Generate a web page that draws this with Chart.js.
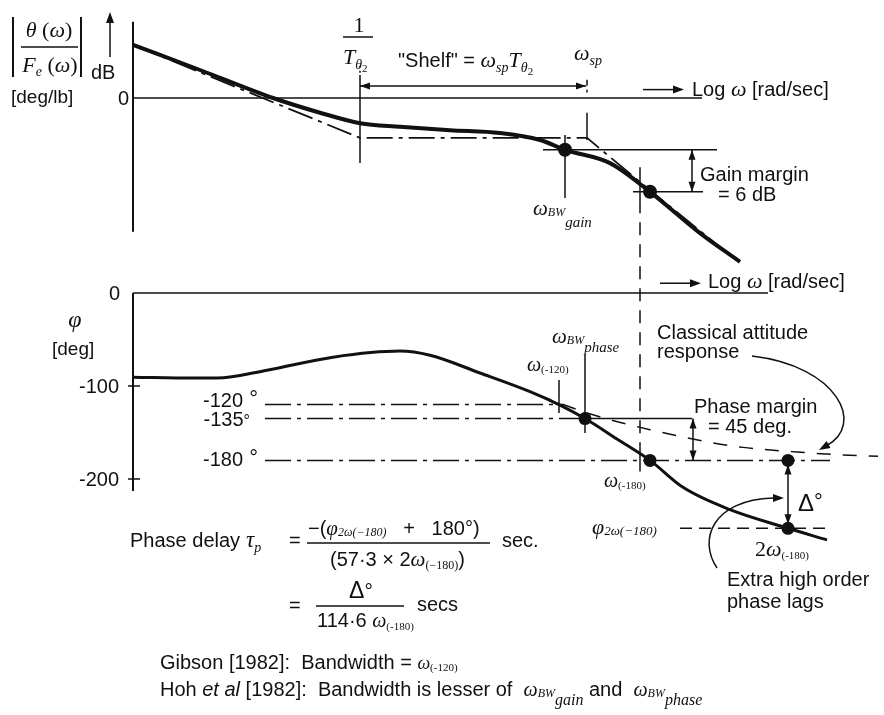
<!DOCTYPE html>
<html>
<head>
<meta charset="utf-8">
<title>Pitch attitude bandwidth</title>
<script src="https://cdn.jsdelivr.net/npm/chart.js@4.4.1/dist/chart.umd.min.js"></script>
<style>
  body { margin: 0; background: #fff; }
  #chart_area { width: 884px; height: 715px; position: relative; }
</style>
</head>
<body>
<div id="chart_area"><canvas id="bode"></canvas></div>
<script>
// Frequencies on the log-omega axis (log units, 0 at the plot origin)
const wTheta2 = 2.27;     // 1/T_theta2
const wSp = 4.54;         // short period
const wBwGain = 4.32;
const w120 = 4.26;
const wBwPhase = 4.52;
const w180 = 5.17;
const w180Line = 5.07;    // dashed marker dropped from the gain plot
const w2x180 = 6.55;

// Gain plot, dB
const magLogW = [0, 0.67, 1.40, 1.87, 2.27, 2.67, 3.17, 3.67, 4.07, 4.32, 4.77, 5.17, 5.67, 6.07];
const magDb = [7.6, 4.0, 0, -2.1, -3.6, -4.1, -4.6, -5.0, -6.0, -7.4, -9.3, -13.4, -19.3, -23.4];
const asymLogW = [0, 2.27, 4.54, 5.17, 6.0];
const asymDb = [7.6, -5.7, -5.7, -13.2, -22.8];
const gainAtBw = -7.4;
const gainMargin = 6;

// Phase plot, deg
const phaseLogW = [0, 0.6, 0.84, 1.34, 2.0, 2.67, 2.97, 3.47, 3.97, 4.26, 4.52, 4.84, 5.17, 5.5, 5.97, 6.55, 6.94];
const phaseDeg = [-90.5, -91.5, -91.5, -83, -69, -62.5, -67, -86, -106, -120, -135, -157, -180, -209, -233, -253, -265.5];
const classicLogW = [4.05, 4.6, 5.17, 5.74, 6.1, 6.64, 7.07, 7.45];
const classicDeg = [-110, -131, -147, -160, -166, -171, -174, -175.5];
const phaseRefs = [-120, -135, -180];
const phaseRefLabels = ["-120", "-135", "-180"];
const phi2w180 = -253;
const phaseTicks = [0, -100, -200];

const INK = "#111";
const SANS = '"Liberation Sans", Arial, sans-serif';
const SERIF = '"Liberation Serif", "DejaVu Serif", serif';
const sans = s => s + "px " + SANS;
const itSans = s => "italic " + s + "px " + SANS;
const ital = s => "italic " + s + "px " + SERIF;
const rom = s => s + "px " + SERIF;

const DASHDOT = [26, 6, 4, 6];

function points(xs, ys) {
    return xs.map((x, i) => ({ x: x, y: ys[i] }));
}

// straight reference line as its own dataset
function refLine(x0, x1, y, axis, dash, width) {
    return {
        data: [{ x: x0, y: y }, { x: x1, y: y }],
        yAxisID: axis,
        borderColor: INK,
        borderWidth: width || 1.5,
        borderDash: dash || [],
        pointRadius: 0,
        tension: 0
    };
}

// draws a row of text pieces [text, font, dy] starting at x (or centred/right aligned)
function runs(ctx, x, y, parts, align) {
    let w = 0;
    parts.forEach(p => { ctx.font = p[1]; w += ctx.measureText(p[0]).width; });
    let cx = align === "center" ? x - w / 2 : align === "right" ? x - w : x;
    parts.forEach(p => {
        ctx.font = p[1];
        ctx.fillText(p[0], cx, y + (p[2] || 0));
        cx += ctx.measureText(p[0]).width;
    });
    return w;
}

function seg(ctx, x0, y0, x1, y1, dash) {
    ctx.setLineDash(dash || []);
    ctx.beginPath();
    ctx.moveTo(x0, y0);
    ctx.lineTo(x1, y1);
    ctx.stroke();
    ctx.setLineDash([]);
}

function head(ctx, x, y, ang, len, half) {
    len = len || 10; half = half || 3.5;
    const c = Math.cos(ang), s = Math.sin(ang);
    ctx.beginPath();
    ctx.moveTo(x, y);
    ctx.lineTo(x - len * c + half * s, y - len * s - half * c);
    ctx.lineTo(x - len * c - half * s, y - len * s + half * c);
    ctx.closePath();
    ctx.fill();
}

function dblArrow(ctx, x0, y0, x1, y1) {
    seg(ctx, x0, y0, x1, y1);
    const a = Math.atan2(y1 - y0, x1 - x0);
    head(ctx, x1, y1, a);
    head(ctx, x0, y0, a + Math.PI);
}

const bodeAxes = {
    id: "bodeAxes",
    beforeDatasetsDraw(chart) {
        const ctx = chart.ctx;
        const X = v => chart.scales.x.getPixelForValue(v);
        const M = v => chart.scales.mag.getPixelForValue(v);
        const P = v => chart.scales.phase.getPixelForValue(v);
        ctx.save();
        ctx.strokeStyle = INK;
        ctx.lineWidth = 2;
        seg(ctx, X(0), M(10.9), X(0), M(-19.1));
        seg(ctx, X(0), P(0), X(0), P(-213));
        ctx.lineWidth = 1.5;
        phaseTicks.slice(1).forEach(t => seg(ctx, X(0) - 5, P(t), X(0) + 7, P(t)));
        ctx.restore();
    },
    afterDatasetsDraw(chart) {
        const ctx = chart.ctx;
        const X = v => chart.scales.x.getPixelForValue(v);
        const M = v => chart.scales.mag.getPixelForValue(v);
        const P = v => chart.scales.phase.getPixelForValue(v);
        ctx.save();
        ctx.strokeStyle = INK;
        ctx.fillStyle = INK;
        ctx.lineWidth = 1.5;
        ctx.textBaseline = "alphabetic";

        // gain axis title |theta/Fe| dB
        runs(ctx, 49, 37, [["θ", ital(22)], [" (", rom(22)], ["ω", ital(22)], [")", rom(22)]], "center");
        seg(ctx, 21, 47, 78, 47);
        runs(ctx, 50, 72, [["F", ital(22)], ["e", ital(14), 4], [" (", rom(22)], ["ω", ital(22)], [")", rom(22)]], "center");
        ctx.lineWidth = 2;
        seg(ctx, 13, 17, 13, 77);
        seg(ctx, 81, 17, 81, 77);
        ctx.lineWidth = 1.5;
        seg(ctx, 110, 57, 110, 20);
        head(ctx, 110, 12, -Math.PI / 2, 11, 4);
        ctx.font = sans(20);
        ctx.fillText("dB", 91, 79);
        ctx.font = sans(19);
        ctx.fillText("[deg/lb]", 11, 103);
        ctx.textAlign = "right";
        ctx.font = sans(20);
        ctx.fillText("0", X(0) - 4, M(0) + 7);
        ctx.textAlign = "left";

        // 1/T_theta2 marker
        runs(ctx, X(wTheta2) - 1, 32, [["1", rom(22)]], "center");
        seg(ctx, X(wTheta2) - 17, 37, X(wTheta2) + 13, 37);
        runs(ctx, X(wTheta2) - 17, 64, [["T", ital(22)], ["θ", ital(14), 5], ["2", rom(11), 8]]);
        seg(ctx, X(wTheta2), M(4.6), X(wTheta2), M(3.3), [2, 3]);
        seg(ctx, X(wTheta2), M(3.3), X(wTheta2), M(-9.3));

        // shelf span
        runs(ctx, 398, 67, [['"Shelf" = ', sans(20)], ["ω", ital(22)], ["sp", ital(14), 5], ["T", ital(22)], ["θ", ital(14), 5], ["2", rom(11), 8]]);
        dblArrow(ctx, X(wTheta2), 86, X(wSp) - 1, 86);
        runs(ctx, X(wSp) - 13, 60, [["ω", ital(22)], ["sp", ital(14), 5]]);
        seg(ctx, X(wSp), M(2.6), X(wSp), M(0.8), [6, 4]);
        seg(ctx, X(wSp), M(-2.1), X(wSp), M(-6.0));

        // log omega axis caption, gain plot
        seg(ctx, 643, M(1.2), 675, M(1.2));
        head(ctx, 684, M(1.2), 0, 11, 4);
        runs(ctx, 692, 96, [["Log ", sans(20)], ["ω", ital(22)], [" [rad/sec]", sans(20)]]);

        // gain margin
        const gLow = gainAtBw - gainMargin;
        dblArrow(ctx, X(5.59), M(gainAtBw), X(5.59), M(gLow));
        ctx.font = sans(20);
        ctx.fillText("Gain margin", 700, 181);
        ctx.fillText("= 6 dB", 718, 201);
        seg(ctx, X(wBwGain), M(-5.3), X(wBwGain), M(-14.3));
        runs(ctx, 533, 215, [["ω", ital(21)], ["BW", ital(12), 1], ["gain", ital(15), 12]]);

        // omega(-180) marker running down into the phase plot
        seg(ctx, X(w180Line), M(-9.9), X(w180Line), M(-14.6));
        seg(ctx, X(w180Line), M(-14.6), X(w180Line), P(-165), [13, 9]);
        seg(ctx, X(w180Line), P(-165), X(w180Line), P(-192));

        // phase axis labels
        ctx.textAlign = "right";
        ctx.font = sans(20);
        phaseTicks.forEach(t => ctx.fillText(String(t), X(0) - (t === 0 ? 13 : 14), P(t) + 7));
        ctx.textAlign = "left";
        runs(ctx, 75, 327, [["φ", ital(24)]], "center");
        ctx.font = sans(19);
        ctx.fillText("[deg]", 52, 355);

        // phase reference labels
        runs(ctx, 258, P(phaseRefs[0]) + 2, [[phaseRefLabels[0], sans(20)], [" °", sans(22), -1]], "right");
        runs(ctx, 250, P(phaseRefs[1]) + 7, [[phaseRefLabels[1], sans(20)], ["°", sans(16), 0]], "right");
        runs(ctx, 258, P(phaseRefs[2]) + 6, [[phaseRefLabels[2], sans(20)], [" °", sans(22), -1]], "right");

        // log omega axis caption, phase plot
        seg(ctx, 660, P(10.5), 692, P(10.5));
        head(ctx, 701, P(10.5), 0, 11, 4);
        runs(ctx, 708, 288, [["Log ", sans(20)], ["ω", ital(22)], [" [rad/sec]", sans(20)]]);

        // bandwidth markers on the phase plot
        seg(ctx, X(wBwPhase), P(-66.7), X(wBwPhase), P(-150.5));
        runs(ctx, 552, 343, [["ω", ital(21)], ["BW", ital(12), 1], ["phase", ital(15), 9]]);
        seg(ctx, X(w120), P(-93.5), X(w120), P(-129));
        runs(ctx, 527, 371, [["ω", ital(20)], ["(-120)", rom(11), 2]]);
        runs(ctx, 604, 487, [["ω", ital(20)], ["(-180)", rom(11), 2]]);

        // phase margin
        dblArrow(ctx, X(5.6), P(-135), X(5.6), P(-180));
        ctx.font = sans(20);
        ctx.fillText("Phase margin", 694, 413);
        ctx.fillText("= 45 deg.", 708, 433);

        // classical response callout
        ctx.fillText("Classical attitude", 657, 339);
        ctx.fillText("response", 657, 358);
        ctx.beginPath();
        ctx.moveTo(752, 356);
        ctx.bezierCurveTo(838, 366, 866, 425, 826, 446);
        ctx.stroke();
        head(ctx, 819, 450, Math.atan2(4, -7), 11, 4);

        // delta between -180 and the phase at 2 omega(-180)
        dblArrow(ctx, X(w2x180), P(-180) + 4, X(w2x180), P(phi2w180) - 4);
        runs(ctx, 798, 511, [["Δ", sans(24)], ["°", sans(22), -2]]);
        runs(ctx, 592, 534, [["φ", ital(22)], ["2ω(−180)", ital(13), 1]]);
        runs(ctx, 755, 556, [["2", rom(22)], ["ω", ital(22)], ["(-180)", rom(11), 3]]);

        // extra lag callout
        ctx.beginPath();
        ctx.moveTo(717, 568);
        ctx.bezierCurveTo(698, 540, 712, 500, 773, 498);
        ctx.stroke();
        head(ctx, 784, 498, 0, 11, 4);
        ctx.font = sans(20);
        ctx.fillText("Extra high order", 727, 586);
        ctx.fillText("phase lags", 727, 608);

        // phase delay formula
        ctx.font = sans(20);
        ctx.fillText("Phase delay", 130, 547);
        runs(ctx, 246, 547, [["τ", ital(23)], ["p", ital(14), 5]]);
        ctx.font = sans(20);
        ctx.fillText("=", 289, 547);
        runs(ctx, 308, 535, [["−(", sans(20)], ["φ", ital(21)], ["2ω(−180)", ital(12), 1], ["   +   180°)", sans(20)]]);
        seg(ctx, 307, 543, 490, 543);
        runs(ctx, 330, 566, [["(57·3 × 2", sans(20)], ["ω", ital(21)], ["(−180)", rom(12), 3], [")", sans(20)]]);
        ctx.font = sans(20);
        ctx.fillText("sec.", 502, 547);
        ctx.fillText("=", 289, 612);
        runs(ctx, 361, 598, [["Δ", sans(23)], ["°", sans(21)]], "center");
        seg(ctx, 316, 606, 404, 606);
        runs(ctx, 317, 627, [["114·6 ", sans(20)], ["ω", ital(20)], ["(-180)", rom(11), 3]]);
        ctx.font = sans(20);
        ctx.fillText("secs", 417, 611);

        // bandwidth definitions
        runs(ctx, 160, 669, [["Gibson [1982]:  Bandwidth = ", sans(20)], ["ω", ital(18)], ["(-120)", rom(11), 2]]);
        runs(ctx, 160, 696, [["Hoh ", sans(20)], ["et al", itSans(20)], [" [1982]:  Bandwidth is lesser of  ", sans(20)],
            ["ω", ital(20)], ["BW", ital(12), 1], ["gain", ital(16), 9], [" and  ", sans(20)],
            ["ω", ital(20)], ["BW", ital(12), 1], ["phase", ital(16), 9]]);

        ctx.restore();
    }
};

const datasets = [
    // gain plot
    refLine(0, 5.69, 0, "mag"),
    refLine(4.10, 5.84, gainAtBw, "mag"),
    refLine(5.0, 5.70, gainAtBw - gainMargin, "mag"),
    {
        data: points(asymLogW, asymDb), yAxisID: "mag",
        borderColor: INK, borderWidth: 1.8, borderDash: DASHDOT, pointRadius: 0, tension: 0
    },
    {
        data: points(magLogW, magDb), yAxisID: "mag",
        borderColor: INK, borderWidth: 4, pointRadius: 0, cubicInterpolationMode: "monotone"
    },
    {
        data: points([wBwGain, w180], [gainAtBw, gainAtBw - gainMargin]), yAxisID: "mag",
        showLine: false, pointRadius: 7, pointBackgroundColor: INK, pointBorderWidth: 0
    },
    // phase plot
    refLine(0, 6.35, 0, "phase"),
    refLine(1.32, 4.30, phaseRefs[0], "phase", DASHDOT),
    refLine(1.32, wBwPhase, phaseRefs[1], "phase", DASHDOT),
    refLine(wBwPhase, 5.59, phaseRefs[1], "phase"),
    refLine(1.32, 6.97, phaseRefs[2], "phase", DASHDOT),
    refLine(5.47, 6.97, phi2w180, "phase", [12, 7]),
    {
        data: points(classicLogW, classicDeg), yAxisID: "phase",
        borderColor: INK, borderWidth: 1.5, borderDash: [14, 12], pointRadius: 0, cubicInterpolationMode: "monotone"
    },
    {
        data: points(phaseLogW, phaseDeg), yAxisID: "phase",
        borderColor: INK, borderWidth: 3, pointRadius: 0, cubicInterpolationMode: "monotone"
    },
    {
        data: points([wBwPhase, w180, w2x180, w2x180], [phaseRefs[1], phaseRefs[2], phaseRefs[2], phi2w180]), yAxisID: "phase",
        showLine: false, pointRadius: 6.5, pointBackgroundColor: INK, pointBorderWidth: 0
    }
];

new Chart(document.getElementById("bode"), {
    type: "line",
    data: { datasets: datasets },
    options: {
        responsive: true,
        maintainAspectRatio: false,
        animation: false,
        events: [],
        layout: { padding: 0, autoPadding: false },
        plugins: { legend: { display: false }, tooltip: { enabled: false } },
        scales: {
            x: { type: "linear", display: false, min: -1.33, max: 7.51 },
            mag: { type: "linear", display: false, min: -88.14, max: 14 },
            phase: { type: "linear", display: false, min: -453.77, max: 315.05 }
        }
    },
    plugins: [bodeAxes]
});
</script>
</body>
</html>
